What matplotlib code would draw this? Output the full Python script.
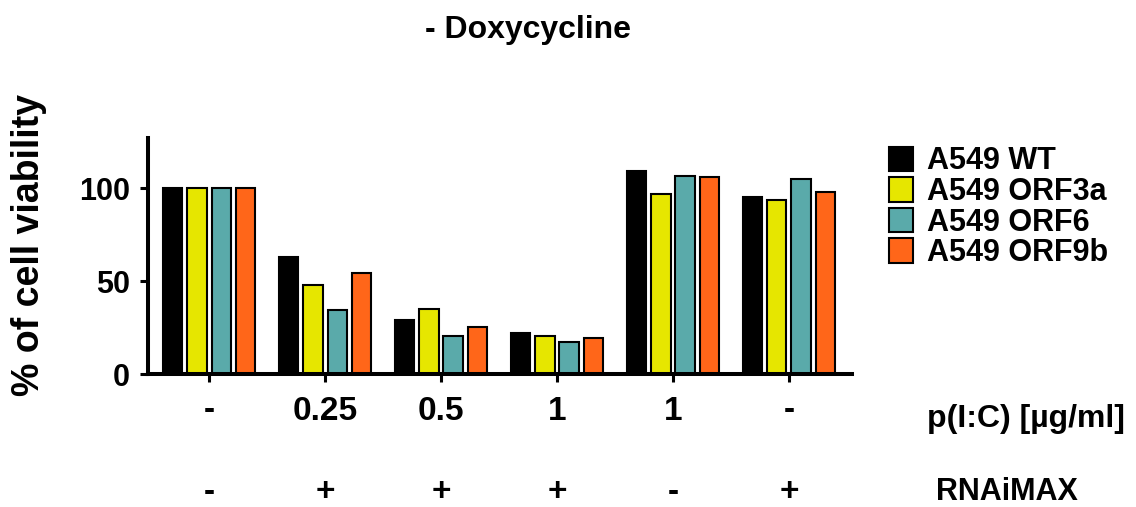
import numpy as np
import matplotlib.pyplot as plt
from matplotlib.patches import Patch
import matplotlib.transforms as mtransforms

plt.rcParams['font.family'] = ['Liberation Sans', 'DejaVu Sans']
plt.rcParams['font.weight'] = 'bold'

# data
pic_labels = ['-', '0.25', '0.5', '1', '1', '-']
rnai_labels = ['-', '+', '+', '+', '-', '+']
series = ['A549 WT', 'A549 ORF3a', 'A549 ORF6', 'A549 ORF9b']
wt = [100.2, 62.7, 28.9, 22.1, 109.5, 95.3]
orf3a = [100.0, 47.9, 35.2, 20.2, 97.0, 93.4]
orf6 = [100.0, 34.6, 20.7, 17.0, 106.8, 104.8]
orf9b = [100.0, 54.5, 25.5, 19.5, 105.9, 98.0]
colors = ['#000000', '#E6E600', '#5AAAAA', '#FF6619']

fig = plt.figure(figsize=(11.36, 5.07), dpi=100)
ax = fig.add_axes([148 / 1136, 133 / 507, 704 / 1136, 236 / 507])

x = np.arange(len(pic_labels))
width = 0.168
step = 0.21
for i, (vals, col, name) in enumerate(zip([wt, orf3a, orf6, orf9b], colors, series)):
    ax.bar(x + (i - 1.5) * step, vals, width, color=col, edgecolor='black',
           linewidth=1.5, label=name, zorder=2)

ax.set_xlim(-0.527, 5.544)
ax.set_ylim(0, 127)
ax.set_yticks([0, 50, 100])
ax.set_xticks(x)
ax.set_xticklabels([])
ax.spines['top'].set_visible(False)
ax.spines['right'].set_visible(False)
ax.spines['left'].set_linewidth(2.9)
ax.spines['bottom'].set_linewidth(2.9)
ax.tick_params(axis='both', width=2.2, length=6, labelsize=22)
ax.tick_params(axis='y', pad=7)
ax.set_ylabel('% of cell viability', fontsize=27, fontweight='bold')
ax.yaxis.set_label_coords(-0.143, 0.545)

# bottom label rows
trans = mtransforms.blended_transform_factory(ax.transData, fig.transFigure)
for xi, lab in zip(x, pic_labels):
    ax.text(xi, 1 - 411 / 507, lab, transform=trans, ha='center', va='center',
            fontsize=24, fontweight='bold')
for xi, lab in zip(x, rnai_labels):
    ax.text(xi, 1 - 492 / 507, lab, transform=trans, ha='center', va='center',
            fontsize=24, fontweight='bold')
fig.text(1026 / 1136, 1 - 419 / 507, 'p(I:C) [µg/ml]', ha='center', va='center',
         fontsize=23, fontweight='bold')
fig.text(1007 / 1136, 1 - 492 / 507, 'RNAiMAX', ha='center', va='center',
         fontsize=22, fontweight='bold')

fig.text(528 / 1136, 1 - 30 / 507, '- Doxycycline', ha='center', va='center',
         fontsize=23, fontweight='bold')

handles = [Patch(facecolor=c, edgecolor='black', linewidth=1.5) for c in colors]
fig.legend(handles, series, loc='upper left', bbox_to_anchor=(868 / 1136, 1 - 125 / 507),
           frameon=False, handlelength=0.78, handleheight=0.85,
           handletextpad=0.45, labelspacing=0.02, borderpad=0.2,
           prop={'weight': 'bold', 'size': 22})

fig.savefig('out.png', dpi=100)
